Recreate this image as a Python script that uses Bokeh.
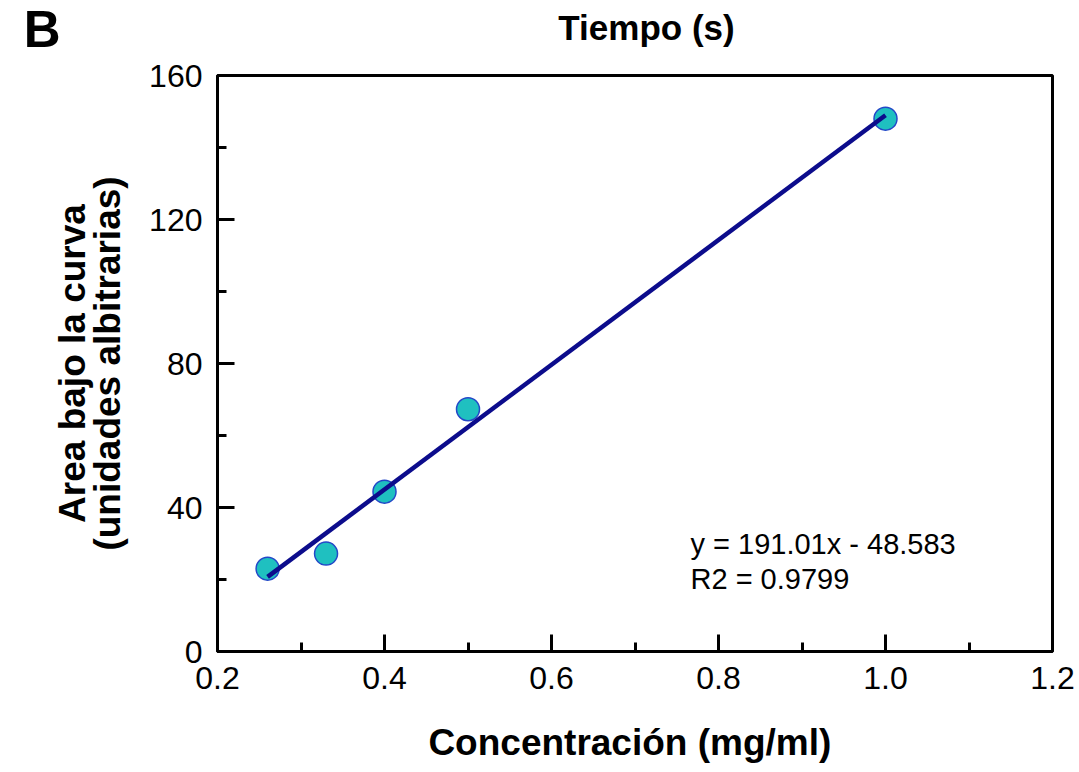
import numpy as np
from bokeh.plotting import figure
from bokeh.layouts import column
from bokeh.models import FixedTicker, Label, Range1d, NumeralTickFormatter
from bokeh.core.properties import value
from bokeh.embed import file_html
from bokeh.resources import INLINE

# ---- data ----
conc = [0.26, 0.33, 0.40, 0.50, 1.00]          # mg/ml
area = [23.0, 27.2, 44.4, 67.3, 148.0]          # area bajo la curva
x_major = [0.2, 0.4, 0.6, 0.8, 1.0, 1.2]
x_minor = [0.3, 0.5, 0.7, 0.9, 1.1]
y_major = [0, 40, 80, 120, 160]
y_minor = [20, 60, 100, 140]
eq_lines = ["y = 191.01x - 48.583", "R2 = 0.9799"]
x_title = "Concentración  (mg/ml)"
y_title = ["Area bajo la curva", "(unidades albitrarias)"]
top_text = "Tiempo (s)"
panel_letter = "B"

# linear fit drawn through the data
slope, intercept = np.polyfit(conc, area, 1)
fit_x = [min(conc), max(conc)]
fit_y = [slope * v + intercept for v in fit_x]

W, H = 1079, 772
HEAD = 57
FONT = "Liberation Sans"

# ---- header strip: panel letter (as a tick label) + cut-off title ----
h = figure(width=W, height=HEAD, output_backend="svg", toolbar_location=None,
           x_range=Range1d(217, 1052), y_range=Range1d(HEAD, 0),
           x_axis_type=None, min_border_left=217, min_border_right=27,
           min_border_top=0, min_border_bottom=0,
           background_fill_color="white", border_fill_color="white")
h.grid.visible = False
h.outline_line_color = None
hy = h.yaxis[0]
hy.ticker = FixedTicker(ticks=[28.5])
hy.major_label_overrides = {28.5: panel_letter}
hy.axis_line_color = None
hy.major_tick_line_color = None
hy.minor_tick_line_color = None
hy.major_tick_out = 0
hy.major_tick_in = 0
hy.major_label_standoff = 157
hy.major_label_text_font = FONT
hy.major_label_text_font_size = "51px"
hy.major_label_text_font_style = "bold"
hy.major_label_text_color = "black"
h.text(x=[646], y=[27], text=[top_text], text_font=value(FONT),
       text_font_size="35px", text_font_style="bold", text_color="black",
       text_baseline="alphabetic", text_align="center")

# ---- main chart ----
p = figure(width=W, height=H - HEAD, output_backend="svg", toolbar_location=None,
           x_range=Range1d(0.2, 1.2), y_range=Range1d(0, 160),
           min_border_left=217, min_border_right=27, min_border_top=75 - HEAD,
           min_border_bottom=121, background_fill_color="white",
           border_fill_color="white")
p.grid.visible = False
p.outline_line_color = "black"
p.outline_line_width = 3

for ax in (p.xaxis[0], p.yaxis[0]):
    ax.axis_line_width = 3
    ax.major_tick_line_width = 3
    ax.minor_tick_line_width = 3
    ax.major_tick_in = 17
    ax.major_tick_out = 0
    ax.minor_tick_in = 9
    ax.minor_tick_out = 0
    ax.major_label_text_font = FONT
    ax.major_label_text_font_size = "32px"
    ax.major_label_text_color = "black"
    ax.major_label_standoff = 15
    ax.axis_label_text_font = FONT
    ax.axis_label_text_font_size = "37px"
    ax.axis_label_text_font_style = "bold"
    ax.axis_label_text_color = "black"

p.xaxis[0].ticker = FixedTicker(ticks=x_major, minor_ticks=x_minor)
p.yaxis[0].ticker = FixedTicker(ticks=y_major, minor_ticks=y_minor)
p.xaxis[0].formatter = NumeralTickFormatter(format="0.0")
p.yaxis[0].formatter = NumeralTickFormatter(format="0")

p.xaxis[0].axis_label = x_title
p.xaxis[0].axis_label_standoff = 30
p.yaxis[0].axis_label = "\n".join(y_title)
p.yaxis[0].axis_label_standoff = 18
p.yaxis[0].axis_label_text_line_height = 0.85

p.scatter(conc, area, size=23, fill_color="#1fc0c0", line_color="#2448c8",
          line_width=1.5)
p.line(fit_x, fit_y, line_color="#0c0c8c", line_width=4.5)

# equation text inside the frame (canvas units, origin top-left of this figure)
for i, t in enumerate(eq_lines):
    p.add_layout(Label(x=690, y=543 - HEAD + 35 * i, x_units="canvas",
                       y_units="canvas", text=t, text_font=FONT,
                       text_font_size="29px", text_align="left",
                       text_baseline="alphabetic", text_color="black"))

open("out.html", "w").write(file_html(column(h, p, spacing=0), INLINE))
